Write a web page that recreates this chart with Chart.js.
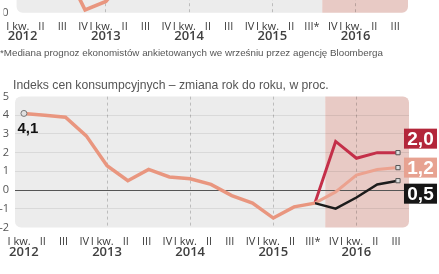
<!DOCTYPE html>
<html>
<head>
<meta charset="utf-8">
<script src="https://cdn.jsdelivr.net/npm/chart.js@4.4.1/dist/chart.umd.min.js"></script>
<style>
  html, body { margin: 0; padding: 0; background: #fff; width: 439px; height: 274px; overflow: hidden; }
  canvas { position: absolute; left: 0; }
  #top { top: -110px; }
  #main { top: 80px; }
  .note { position: absolute; left: 0; top: 47px; font: 9.8px "Liberation Sans", sans-serif; color: #555; white-space: nowrap; }
  .title { position: absolute; left: 13px; top: 78px; font: 12.2px "Liberation Sans", sans-serif; color: #555; white-space: nowrap; }
</style>
</head>
<body>
<canvas id="top" width="439" height="190"></canvas>
<div class="note">*Mediana prognoz ekonomistów ankietowanych we wrześniu przez agencję Bloomberga</div>
<div class="title">Indeks cen konsumpcyjnych – zmiana rok do roku, w proc.</div>
<canvas id="main" width="439" height="194"></canvas>
<script>
// quarters 2012 Q1 .. 2016 Q3, III* = last actual reading
const quarters = ['I kw.', 'II', 'III', 'IV', 'I kw.', 'II', 'III', 'IV', 'I kw.', 'II', 'III', 'IV',
                  'I kw.', 'II', 'III*', 'IV', 'I kw.', 'II', 'III'];
const years = ['2012', '', '', '', '2013', '', '', '', '2014', '', '', '', '2015', '', '', '', '2016', '', ''];
const yearStarts = [4, 8, 12, 16];

// CPI y/y, actual
const cpi = [4.1, 4.0, 3.9, 2.9, 1.3, 0.5, 1.1, 0.7, 0.6, 0.3, -0.3, -0.7, -1.5, -0.9, -0.7,
             null, null, null, null];
// forecasts from III* on
const fcMax = [null, null, null, null, null, null, null, null, null, null, null, null, null, null, -0.7, 2.6, 1.7, 2.0, 2.0];
const fcMed = [null, null, null, null, null, null, null, null, null, null, null, null, null, null, -0.7, -0.1, 0.8, 1.1, 1.2];
const fcMin = [null, null, null, null, null, null, null, null, null, null, null, null, null, null, -0.7, -1.0, -0.4, 0.3, 0.5];

// bit of the chart above, only its bottom edge is in view
const topSeries = [null, null, 2.4, 0.15, 0.6, 1.9, null, null, null, null, null, null, null, null, null, null, null, null, null];

const idx = quarters.map((_, i) => i);
const fmt = v => v.toFixed(1).replace('.', ',');
const axisFont = 'Open Sans';

// grey plot box + pink forecast band, years under the quarter labels
const bgPlugin = {
  id: 'bg',
  beforeDraw(chart, args, o) {
    const { ctx } = chart;
    const x = chart.scales.x, y = chart.scales.y;
    const l = x.left, r = x.right, t = y.top, b = y.bottom;
    const p = x.getPixelForValue(o.shadeFrom);
    ctx.save();
    ctx.fillStyle = '#ececec';
    ctx.beginPath();
    ctx.roundRect(l, t, p - l, b - t, [6, 0, 0, 6]);
    ctx.fill();
    ctx.fillStyle = '#e8cac5';
    ctx.beginPath();
    ctx.roundRect(p, t, r - p, b - t, [0, 6, 6, 0]);
    ctx.fill();
    ctx.restore();
  },
  afterDraw(chart, args, o) {
    const { ctx, chartArea: a } = chart;
    const x = chart.scales.x;
    ctx.save();
    ctx.textAlign = 'center';
    ctx.textBaseline = 'middle';
    ctx.fillStyle = '#404040';
    ctx.font = '600 13px "' + axisFont + '"';
    years.forEach((yr, i) => { if (yr) ctx.fillText(yr, x.getPixelForValue(i), a.bottom + o.yearGap); });
    ctx.restore();
  }
};

// 4,1 at the start, coloured value boxes at the end
const tagPlugin = {
  id: 'tags',
  afterDatasetsDraw(chart) {
    const ctx = chart.ctx;
    const first = chart.getDatasetMeta(0).data[0];
    ctx.save();
    ctx.textAlign = 'center';
    ctx.textBaseline = 'middle';
    ctx.fillStyle = '#111';
    ctx.font = 'bold 15px "Liberation Sans"';
    ctx.fillText(fmt(cpi[0]), first.x + 4, first.y + 15);
    chart.data.datasets.forEach((ds, i) => {
      if (!ds.tag) return;
      const pts = chart.getDatasetMeta(i).data;
      const pt = pts[pts.length - 1];
      const cy = pt.y + ds.tag.dy;
      ctx.fillStyle = ds.tag.bg;
      ctx.fillRect(pt.x + 6, cy - 10, 33, 20);
      ctx.fillStyle = '#fff';
      ctx.font = 'bold 19px "Liberation Sans"';
      ctx.fillText(fmt(ds.data[ds.data.length - 1]), pt.x + 22.5, cy + 1);
    });
    ctx.restore();
  }
};

function xScale(min, max) {
  return {
    type: 'linear', min, max,
    afterBuildTicks: s => { s.ticks = idx.map(v => ({ value: v })); },
    border: { display: false, dash: [3, 3] },
    grid: {
      drawTicks: false,
      color: c => yearStarts.includes(c.tick.value) ? 'rgba(0,0,0,0.2)' : 'rgba(0,0,0,0)'
    },
    ticks: {
      autoSkip: false, minRotation: 0, maxRotation: 0, padding: 8, labelOffset: -2,
      color: '#3a3a3a', font: { family: axisFont, size: 11 },
      callback: v => quarters[v] === 'I kw.' ? 'I kw.  ' : quarters[v]
    }
  };
}

function yScale(min, max, width, pad) {
  return {
    min, max,
    afterFit: s => { s.width = width; },
    border: { display: false },
    grid: {
      drawTicks: false,
      color: c => c.tick.value === 0 && min < 0 ? '#555'
        : (c.tick.value === min || c.tick.value === max) ? 'rgba(0,0,0,0)' : 'rgba(0,0,0,0.08)'
    },
    ticks: { stepSize: 1, padding: pad, color: '#555', font: { family: axisFont, size: 11 }, callback: v => String(v) }
  };
}

new Chart(document.getElementById('top'), {
  type: 'line',
  data: {
    labels: idx,
    datasets: [{ data: topSeries, borderColor: '#e9967f', borderWidth: 3.5, pointRadius: 0, tension: 0 }]
  },
  options: {
    responsive: false, animation: false,
    layout: { padding: { top: 29.2, bottom: 38.1, left: 0, right: 31 } },
    plugins: { legend: { display: false }, tooltip: { enabled: false }, bg: { shadeFrom: 14.4, yearGap: 24 } },
    scales: { x: xScale(-0.29, 18.52), y: yScale(0, 5, 13, 8) }
  },
  plugins: [bgPlugin]
});

const endPoint = {
  pointRadius: c => c.dataIndex === quarters.length - 1 ? 3 : 0,
  pointStyle: 'rect', pointBackgroundColor: '#ddd', pointBorderColor: '#555', pointBorderWidth: 1
};

new Chart(document.getElementById('main'), {
  type: 'line',
  data: {
    labels: idx,
    datasets: [
      {
        data: cpi, borderColor: '#e9967f', borderWidth: 3.5, tension: 0,
        pointRadius: c => c.dataIndex === 0 ? 3 : 0,
        pointBackgroundColor: '#e0e0e0', pointBorderColor: '#777', pointBorderWidth: 1
      },
      Object.assign({ data: fcMin, borderColor: '#1c1c1c', borderWidth: 2.5, tension: 0,
        tag: { bg: '#161616', dy: 13 } }, endPoint),
      Object.assign({ data: fcMed, borderColor: '#eca28f', borderWidth: 3, tension: 0,
        tag: { bg: '#e7a291', dy: 0 } }, endPoint),
      Object.assign({ data: fcMax, borderColor: '#c42f49', borderWidth: 3, tension: 0,
        tag: { bg: '#b3263a', dy: -14 } }, endPoint)
    ]
  },
  options: {
    responsive: false, animation: false,
    layout: { padding: { top: 16.6, bottom: 17.4, left: 0, right: 30 } },
    plugins: { legend: { display: false }, tooltip: { enabled: false }, bg: { shadeFrom: 14.5, yearGap: 24.6 } },
    scales: { x: xScale(-0.43, 18.53), y: yScale(-2, 5, 15, 6) }
  },
  plugins: [bgPlugin, tagPlugin]
});
</script>
</body>
</html>
